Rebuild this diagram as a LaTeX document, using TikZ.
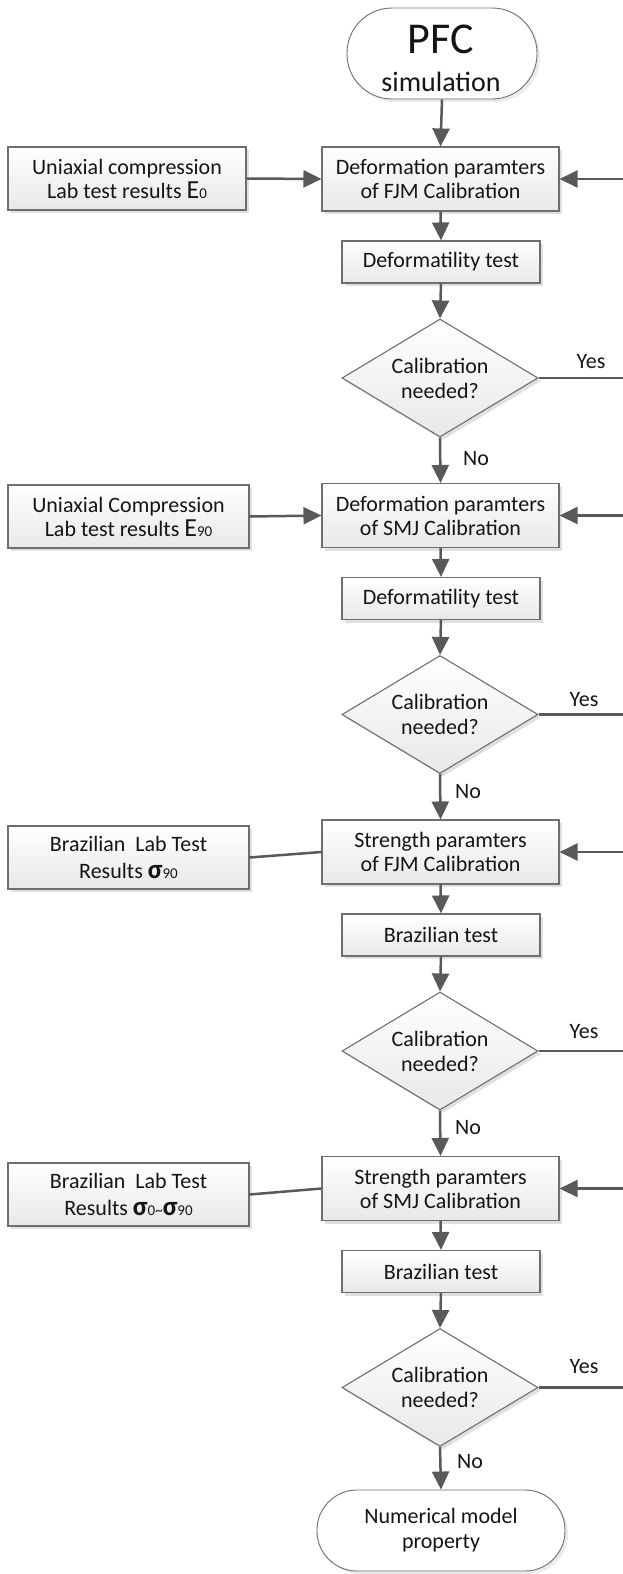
\documentclass[tikz,border=0pt]{standalone}
\usepackage{fontspec}
\setmainfont{Carlito}
\usetikzlibrary{arrows.meta,shapes.geometric,shadows}
\definecolor{linecol}{HTML}{595959}
\definecolor{bordcol}{HTML}{6E6E6E}
\definecolor{txtcol}{HTML}{151515}
\definecolor{fillbot}{HTML}{E8E8E8}
\newcommand{\bigE}{{\fontsize{26}{24}\selectfont E}}
\newcommand{\smallt}[1]{{\fontsize{15}{24}\selectfont #1}}
\newcommand{\sig}{{\fontsize{27}{24}\selectfont\bfseries σ}}
\begin{document}
\begin{tikzpicture}[x=1pt,y=-1pt,
  every node/.style={text=txtcol},
  procbox/.style={draw=bordcol, line width=1.1pt, top color=white, bottom color=fillbot,
    drop shadow={shadow xshift=3pt, shadow yshift=-3pt, opacity=0.12, fill=black},
    align=center, inner sep=0pt, font=\fontsize{22}{24}\selectfont},
  mainbox/.style={procbox, minimum width=237pt, minimum height=64pt},
  testbox/.style={procbox, minimum width=198pt, minimum height=42pt},
  labbox/.style={procbox, minimum width=241pt, minimum height=63pt},
  labbox2/.style={labbox, font=\fontsize{22}{27}\selectfont},
  decision/.style={diamond, procbox, aspect=1.66, minimum width=196pt, minimum height=118pt,
    font=\fontsize{22}{25}\selectfont},
  terminal/.style={draw=bordcol, line width=0.9pt, fill=white, align=center, inner sep=0pt,
    drop shadow={shadow xshift=3pt, shadow yshift=-3pt, opacity=0.08, fill=black}},
  flow/.style={draw=linecol, line width=2.5pt, -{Triangle[length=18pt,width=17pt]}},
  plain/.style={draw=linecol, line width=2.5pt},
  lbl/.style={font=\fontsize{22}{24}\selectfont}
]
\useasboundingbox (0,0) rectangle (623,1574);
\coordinate (rx) at (625,0);

% start terminal
\node[terminal, minimum width=190pt, minimum height=91pt, rounded corners=45pt] (start) at (442,53.5) {};
\node[anchor=base, font=\fontsize{44}{44}\selectfont] (startA) at (441,53) {PFC};
\node[anchor=base, font=\fontsize{28}{28}\selectfont] (startB) at (441,91) {simulation};

% section 1
\node[mainbox] (m1) at (440.5,179) {Deformation paramters\\of FJM Calibration};
\node[labbox, minimum width=238pt] (l1) at (127,178.5) {Uniaxial compression\\Lab test results \bigE\smallt{0}};
\node[testbox] (t1) at (441,262) {Deformatility test};
\node[decision] (d1) at (440,378) {Calibration\\needed?};

% section 2
\node[mainbox] (m2) at (440.5,515.5) {Deformation paramters\\of SMJ Calibration};
\node[labbox] (l2) at (128.5,516.5) {Uniaxial Compression\\Lab test results \bigE\smallt{90}};
\node[testbox] (t2) at (441,598.5) {Deformatility test};
\node[decision] (d2) at (440,714.5) {Calibration\\needed?};

% section 3
\node[mainbox] (m3) at (440.5,852) {Strength paramters\\of FJM Calibration};
\node[labbox2] (l3) at (128.5,857.5) {Brazilian\ \ Lab Test\\Results \sig\smallt{90}};
\node[testbox] (t3) at (441,935) {Brazilian test};
\node[decision] (d3) at (440,1051) {Calibration\\needed?};

% section 4
\node[mainbox] (m4) at (440.5,1188.5) {Strength paramters\\of SMJ Calibration};
\node[labbox2] (l4) at (128.5,1194.5) {Brazilian\ \ Lab Test\\Results \sig\smallt{0\textasciitilde}\sig\smallt{90}};
\node[testbox] (t4) at (441,1271.5) {Brazilian test};
\node[decision] (d4) at (440,1387.5) {Calibration\\needed?};

% end terminal
\node[terminal, minimum width=248pt, minimum height=81pt, rounded corners=40pt,
  font=\fontsize{22}{25}\selectfont] (end) at (441,1530.5) {Numerical model\\property};

% vertical flow
\draw[flow] (start.south) -- (m1.north);
\draw[flow] (m1.south) -- (t1.north);
\draw[flow] (t1.south) -- (d1.north);
\draw[flow] (d1.south) -- (m2.north);
\draw[flow] (m2.south) -- (t2.north);
\draw[flow] (t2.south) -- (d2.north);
\draw[flow] (d2.south) -- (m3.north);
\draw[flow] (m3.south) -- (t3.north);
\draw[flow] (t3.south) -- (d3.north);
\draw[flow] (d3.south) -- (m4.north);
\draw[flow] (m4.south) -- (t4.north);
\draw[flow] (t4.south) -- (d4.north);
\draw[flow] (d4.south) -- (end.north);

% lab inputs
\draw[flow] (l1.east) -- (m1.west);
\draw[flow] (l2.east) -- (m2.west);
\draw[plain] (l3.east) -- (m3.west);
\draw[plain] (l4.east) -- (m4.west);

% loops
\draw[flow] (d1.east) -- (d1.east -| rx) |- (m1.east);
\draw[flow] (d2.east) -- (d2.east -| rx) |- (m2.east);
\draw[flow] (d3.east) -- (d3.east -| rx) |- (m3.east);
\draw[flow] (d4.east) -- (d4.east -| rx) |- (m4.east);

% labels
\node[lbl] (y1) at (591,362) {Yes};
\node[lbl] (y2) at (584,700) {Yes};
\node[lbl] (y3) at (584,1032) {Yes};
\node[lbl] (y4) at (584,1367) {Yes};
\node[lbl] (n1) at (476,459) {No};
\node[lbl] (n2) at (468,792) {No};
\node[lbl] (n3) at (468,1128) {No};
\node[lbl] (n4) at (470,1461) {No};
\end{tikzpicture}
\end{document}
